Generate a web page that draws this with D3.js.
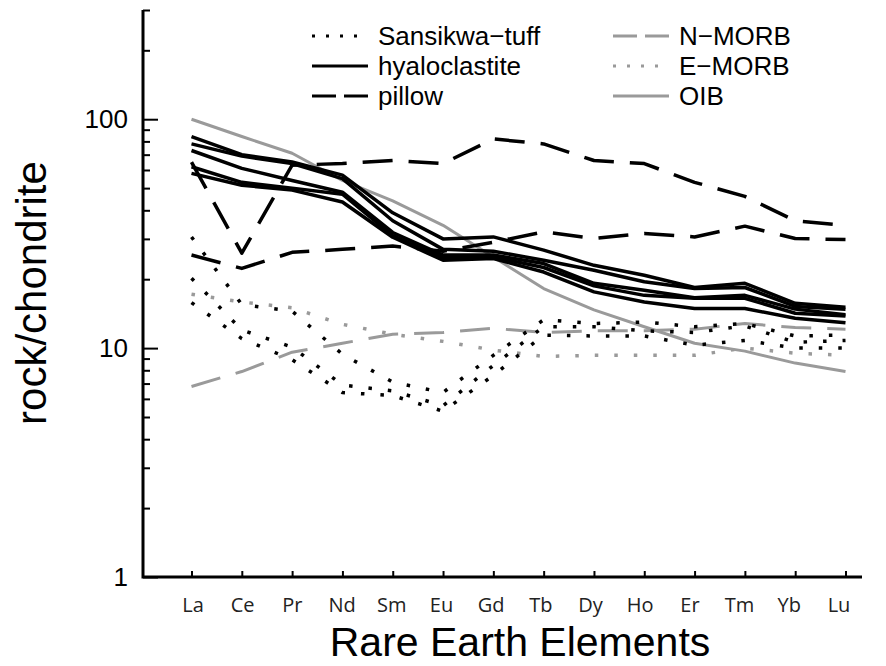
<!DOCTYPE html>
<html>
<head>
<meta charset="utf-8">
<script src="https://cdn.jsdelivr.net/npm/d3@7"></script>
<style>
body { margin: 0; background: #fff; }
svg text { font-family: "Liberation Sans", Arial, sans-serif; fill: #000; }
</style>
</head>
<body>
<svg id="chart" width="886" height="666"></svg>
<script>
const elements = ['La', 'Ce', 'Pr', 'Nd', 'Sm', 'Eu', 'Gd', 'Tb', 'Dy', 'Ho', 'Er', 'Tm', 'Yb', 'Lu'];

// Sansikwa tuff samples
const tuff1 = [30.6, 15.5, 14.5, 9.4, 7.1, 6.4, 9.3, 13.3, 12.8, 13.0, 12.4, 12.8, 11.3, 11.4];
const tuff2 = [20.2, 12.0, 10.1, 6.9, 6.5, 5.6, 8.4, 12.4, 12.4, 11.9, 11.7, 12.5, 10.6, 10.8];
const tuff3 = [15.8, 11.0, 8.9, 6.4, 6.2, 5.3, 7.6, 11.4, 11.3, 11.3, 10.3, 10.8, 10.0, 10.0];

// hyaloclastite samples
const hyalo1 = [84, 70, 65, 57, 39, 30, 30.6, 26.8, 23, 20.8, 18.4, 19.2, 15.7, 15.1];
const hyalo2 = [78, 69, 64, 55, 36, 27, 26.5, 24.2, 21.9, 19.5, 18.2, 18.4, 15.2, 14.8];
const hyalo3 = [73, 61, 54, 48, 32, 25.5, 25.5, 23.4, 19.2, 17.9, 16.6, 17.0, 14.8, 14.0];
const hyalo4 = [62, 53, 50, 47, 31, 24.8, 25, 22.5, 18.7, 17.0, 16.5, 16.5, 14.2, 13.8];
const hyalo5 = [58, 51.5, 49, 43.5, 30.5, 24.2, 24.6, 21.5, 17.6, 15.9, 14.9, 14.9, 13.5, 12.9];

// pillow samples
const pillow1 = [65, 26, 63, 64, 66, 64, 82, 78, 66, 64, 53, 46, 36, 34.4];
const pillow2 = [25.5, 22.3, 26.2, 27, 27.9, 26.5, 29, 32.2, 30.1, 31.7, 30.6, 34.1, 30.1, 29.8];

// reference basalts
const nmorb = [6.8, 7.9, 9.6, 10.5, 11.5, 11.7, 12.2, 11.7, 11.9, 11.9, 12.1, 12.8, 12.3, 12.1];
const emorb = [17.2, 15.9, 15.0, 12.7, 11.5, 10.7, 9.8, 9.2, 9.3, 9.3, 9.3, 10.0, 9.5, 9.3];
const oib = [100, 84, 71, 54, 44, 34.4, 25, 18.2, 14.7, 12.4, 10.5, 9.7, 8.6, 7.9];

const majorTicks = [1, 10, 100];
const minorTicks = [2, 3, 4, 5, 6, 7, 8, 9, 20, 30, 40, 50, 60, 70, 80, 90, 200, 300];

const svg = d3.select('#chart');

const x = d3.scalePoint().domain(elements).range([191.5, 845.5]);
const xLabel = d3.scalePoint().domain(elements).range([193, 839]);
const y = d3.scaleLog().domain([1, 300]).range([577, 10]);

const grey = '#9a9a9a';

const line = d3.line()
    .x((d, i) => x(elements[i]))
    .y(d => y(d));

function drawSeries(values, color, width, dash) {
    svg.append('path')
        .datum(values)
        .attr('d', line)
        .attr('fill', 'none')
        .attr('stroke', color)
        .attr('stroke-width', width)
        .attr('stroke-dasharray', dash)
        .attr('stroke-linejoin', 'round');
}

// reference curves underneath
drawSeries(nmorb, grey, 3, '30,16');
drawSeries(emorb, grey, 3.5, '3.5,16');
drawSeries(oib, grey, 3, null);

[tuff1, tuff2, tuff3].forEach(s => drawSeries(s, '#000', 3.5, '3.5,16'));
[pillow1, pillow2].forEach(s => drawSeries(s, '#000', 3.5, '30,16'));
[hyalo1, hyalo2, hyalo3, hyalo4, hyalo5].forEach(s => drawSeries(s, '#000', 3.5, null));

// axes
const yMajor = svg.append('g')
    .attr('transform', 'translate(143,0)')
    .call(d3.axisRight(y).tickValues(majorTicks).tickSize(15).tickFormat(''));
const yMinor = svg.append('g')
    .attr('transform', 'translate(143,0)')
    .call(d3.axisRight(y).tickValues(minorTicks).tickSize(7).tickFormat(''));
const xAxis = svg.append('g')
    .attr('transform', 'translate(0,577)')
    .call(d3.axisTop(x).tickSize(6).tickFormat(''));

[yMajor, yMinor, xAxis].forEach(g => {
    g.select('.domain').remove();
    g.selectAll('line').attr('stroke', '#000').attr('stroke-width', 2);
});

svg.append('path')
    .attr('d', 'M143,10V577H862')
    .attr('fill', 'none')
    .attr('stroke', '#000')
    .attr('stroke-width', 3);

svg.selectAll('.ylab')
    .data(majorTicks)
    .join('text')
    .attr('class', 'ylab')
    .attr('x', 128)
    .attr('y', d => y(d) + 9)
    .attr('text-anchor', 'end')
    .style('font-size', '26px')
    .text(d => d);

svg.selectAll('.xlab')
    .data(elements)
    .join('text')
    .attr('class', 'xlab')
    .attr('x', d => xLabel(d))
    .attr('y', 612)
    .attr('text-anchor', 'middle')
    .style('font-family', '"Open Sans", sans-serif')
    .style('font-size', '20px')
    .style('fill', '#222')
    .text(d => d);

svg.append('text')
    .attr('x', 520)
    .attr('y', 656)
    .attr('text-anchor', 'middle')
    .style('font-size', '41px')
    .text('Rare Earth Elements');

svg.append('text')
    .attr('transform', 'translate(46,293) rotate(-90)')
    .attr('text-anchor', 'middle')
    .style('font-size', '42px')
    .text('rock/chondrite');

// legend
const legendNames = ['Sansikwa\u2212tuff', 'hyaloclastite', 'pillow', 'N\u2212MORB', 'E\u2212MORB', 'OIB'];
const legendColors = ['#000', '#000', '#000', grey, grey, grey];
const legendDash = ['3,11', null, '24,8', '24,8', '3,11', null];

const legend = svg.append('g');
legendNames.forEach((name, i) => {
    const col = Math.floor(i / 3);
    const row = i % 3;
    const lx = col === 0 ? 312 : 613;
    const ly = 36 + row * 30;
    legend.append('line')
        .attr('x1', lx).attr('x2', lx + 56)
        .attr('y1', ly).attr('y2', ly)
        .attr('stroke', legendColors[i])
        .attr('stroke-width', 3)
        .attr('stroke-dasharray', legendDash[i]);
    legend.append('text')
        .attr('x', lx + 66)
        .attr('y', ly + 9)
        .style('font-size', '26px')
        .text(name);
});
</script>
</body>
</html>
